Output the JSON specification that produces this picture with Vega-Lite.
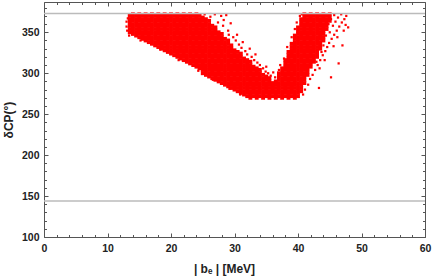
{
"$schema": "https://vega.github.io/schema/vega-lite/v6.json",
"width": 381, "height": 235,
"autosize": {"type": "none"},
"padding": {"left": 44, "top": 2, "right": 9, "bottom": 42},
"background": "white",
"config": {"view": {"stroke": null}, "axis": {"grid": false, "domainColor": "#555555", "tickColor": "#555555", "labelColor": "#222222", "titleColor": "#222222", "labelFont": "Liberation Sans", "titleFont": "Liberation Sans", "labelFontWeight": "bold", "titleFontWeight": "bold", "labelFontSize": 10.5, "titleFontSize": 12, "labelFlush": false, "labelOverlap": false, "labelBound": false, "domainWidth": 1, "tickWidth": 1}},
"datasets": {
"dense": [
{"b":13.5,"d":350},{"b":13.5,"d":354},{"b":13.5,"d":358},{"b":13.5,"d":362},{"b":13.5,"d":366},{"b":13.5,"d":370},
{"b":14,"d":348},{"b":14,"d":352},{"b":14,"d":356},{"b":14,"d":360},{"b":14,"d":364},{"b":14,"d":368},{"b":14,"d":372},
{"b":14.5,"d":346},{"b":14.5,"d":350},{"b":14.5,"d":354},{"b":14.5,"d":358},{"b":14.5,"d":362},{"b":14.5,"d":366},{"b":14.5,"d":370},
{"b":15,"d":344},{"b":15,"d":348},{"b":15,"d":352},{"b":15,"d":356},{"b":15,"d":360},{"b":15,"d":364},{"b":15,"d":368},{"b":15,"d":372},
{"b":15.5,"d":342},{"b":15.5,"d":346},{"b":15.5,"d":350},{"b":15.5,"d":354},{"b":15.5,"d":358},{"b":15.5,"d":362},{"b":15.5,"d":366},{"b":15.5,"d":370},
{"b":16,"d":340},{"b":16,"d":344},{"b":16,"d":348},{"b":16,"d":352},{"b":16,"d":356},{"b":16,"d":360},{"b":16,"d":364},{"b":16,"d":368},{"b":16,"d":372},
{"b":16.5,"d":338},{"b":16.5,"d":342},{"b":16.5,"d":346},{"b":16.5,"d":350},{"b":16.5,"d":354},{"b":16.5,"d":358},{"b":16.5,"d":362},{"b":16.5,"d":366},{"b":16.5,"d":370},
{"b":17,"d":336},{"b":17,"d":340},{"b":17,"d":344},{"b":17,"d":348},{"b":17,"d":352},{"b":17,"d":356},{"b":17,"d":360},{"b":17,"d":364},{"b":17,"d":368},{"b":17,"d":372},
{"b":17.5,"d":334},{"b":17.5,"d":338},{"b":17.5,"d":342},{"b":17.5,"d":346},{"b":17.5,"d":350},{"b":17.5,"d":354},{"b":17.5,"d":358},{"b":17.5,"d":362},{"b":17.5,"d":366},{"b":17.5,"d":370},
{"b":18,"d":332},{"b":18,"d":336},{"b":18,"d":340},{"b":18,"d":344},{"b":18,"d":348},{"b":18,"d":352},{"b":18,"d":356},{"b":18,"d":360},{"b":18,"d":364},{"b":18,"d":368},{"b":18,"d":372},
{"b":18.5,"d":330},{"b":18.5,"d":334},{"b":18.5,"d":338},{"b":18.5,"d":342},{"b":18.5,"d":346},{"b":18.5,"d":350},{"b":18.5,"d":354},{"b":18.5,"d":358},{"b":18.5,"d":362},{"b":18.5,"d":366},{"b":18.5,"d":370},
{"b":19,"d":328},{"b":19,"d":332},{"b":19,"d":336},{"b":19,"d":340},{"b":19,"d":344},{"b":19,"d":348},{"b":19,"d":352},{"b":19,"d":356},{"b":19,"d":360},{"b":19,"d":364},{"b":19,"d":368},{"b":19,"d":372},
{"b":19.5,"d":326},{"b":19.5,"d":330},{"b":19.5,"d":334},{"b":19.5,"d":338},{"b":19.5,"d":342},{"b":19.5,"d":346},{"b":19.5,"d":350},{"b":19.5,"d":354},{"b":19.5,"d":358},{"b":19.5,"d":362},{"b":19.5,"d":366},{"b":19.5,"d":370},
{"b":20,"d":324},{"b":20,"d":328},{"b":20,"d":332},{"b":20,"d":336},{"b":20,"d":340},{"b":20,"d":344},{"b":20,"d":348},{"b":20,"d":352},{"b":20,"d":356},{"b":20,"d":360},{"b":20,"d":364},{"b":20,"d":368},{"b":20,"d":372},
{"b":20.5,"d":322},{"b":20.5,"d":326},{"b":20.5,"d":330},{"b":20.5,"d":334},{"b":20.5,"d":338},{"b":20.5,"d":342},{"b":20.5,"d":346},{"b":20.5,"d":350},{"b":20.5,"d":354},{"b":20.5,"d":358},{"b":20.5,"d":362},{"b":20.5,"d":366},{"b":20.5,"d":370},
{"b":21,"d":320},{"b":21,"d":324},{"b":21,"d":328},{"b":21,"d":332},{"b":21,"d":336},{"b":21,"d":340},{"b":21,"d":344},{"b":21,"d":348},{"b":21,"d":352},{"b":21,"d":356},{"b":21,"d":360},{"b":21,"d":364},{"b":21,"d":368},{"b":21,"d":372},
{"b":21.5,"d":318},{"b":21.5,"d":322},{"b":21.5,"d":326},{"b":21.5,"d":330},{"b":21.5,"d":334},{"b":21.5,"d":338},{"b":21.5,"d":342},{"b":21.5,"d":346},{"b":21.5,"d":350},{"b":21.5,"d":354},{"b":21.5,"d":358},{"b":21.5,"d":362},{"b":21.5,"d":366},{"b":21.5,"d":370},
{"b":22,"d":316},{"b":22,"d":320},{"b":22,"d":324},{"b":22,"d":328},{"b":22,"d":332},{"b":22,"d":336},{"b":22,"d":340},{"b":22,"d":344},{"b":22,"d":348},{"b":22,"d":352},{"b":22,"d":356},{"b":22,"d":360},{"b":22,"d":364},{"b":22,"d":368},{"b":22,"d":372},
{"b":22.5,"d":314},{"b":22.5,"d":318},{"b":22.5,"d":322},{"b":22.5,"d":326},{"b":22.5,"d":330},{"b":22.5,"d":334},{"b":22.5,"d":338},{"b":22.5,"d":342},{"b":22.5,"d":346},{"b":22.5,"d":350},{"b":22.5,"d":354},{"b":22.5,"d":358},{"b":22.5,"d":362},{"b":22.5,"d":366},{"b":22.5,"d":370},
{"b":23,"d":312},{"b":23,"d":316},{"b":23,"d":320},{"b":23,"d":324},{"b":23,"d":328},{"b":23,"d":332},{"b":23,"d":336},{"b":23,"d":340},{"b":23,"d":344},{"b":23,"d":348},{"b":23,"d":352},{"b":23,"d":356},{"b":23,"d":360},{"b":23,"d":364},{"b":23,"d":368},{"b":23,"d":372},
{"b":23.5,"d":310},{"b":23.5,"d":314},{"b":23.5,"d":318},{"b":23.5,"d":322},{"b":23.5,"d":326},{"b":23.5,"d":330},{"b":23.5,"d":334},{"b":23.5,"d":338},{"b":23.5,"d":342},{"b":23.5,"d":346},{"b":23.5,"d":350},{"b":23.5,"d":354},{"b":23.5,"d":358},{"b":23.5,"d":362},{"b":23.5,"d":366},{"b":23.5,"d":370},
{"b":24,"d":308},{"b":24,"d":312},{"b":24,"d":316},{"b":24,"d":320},{"b":24,"d":324},{"b":24,"d":328},{"b":24,"d":332},{"b":24,"d":336},{"b":24,"d":340},{"b":24,"d":344},{"b":24,"d":348},{"b":24,"d":352},{"b":24,"d":356},{"b":24,"d":360},{"b":24,"d":364},{"b":24,"d":368},{"b":24,"d":372},
{"b":24.5,"d":306},{"b":24.5,"d":310},{"b":24.5,"d":314},{"b":24.5,"d":318},{"b":24.5,"d":322},{"b":24.5,"d":326},{"b":24.5,"d":330},{"b":24.5,"d":334},{"b":24.5,"d":338},{"b":24.5,"d":342},{"b":24.5,"d":346},{"b":24.5,"d":350},{"b":24.5,"d":354},{"b":24.5,"d":358},{"b":24.5,"d":362},{"b":24.5,"d":366},{"b":24.5,"d":370},
{"b":25,"d":300},{"b":25,"d":304},{"b":25,"d":308},{"b":25,"d":312},{"b":25,"d":316},{"b":25,"d":320},{"b":25,"d":324},{"b":25,"d":328},{"b":25,"d":332},{"b":25,"d":336},{"b":25,"d":340},{"b":25,"d":344},{"b":25,"d":348},{"b":25,"d":352},{"b":25,"d":356},{"b":25,"d":360},{"b":25,"d":364},{"b":25,"d":368},
{"b":25.5,"d":298},{"b":25.5,"d":302},{"b":25.5,"d":306},{"b":25.5,"d":310},{"b":25.5,"d":314},{"b":25.5,"d":318},{"b":25.5,"d":322},{"b":25.5,"d":326},{"b":25.5,"d":330},{"b":25.5,"d":334},{"b":25.5,"d":338},{"b":25.5,"d":342},{"b":25.5,"d":346},{"b":25.5,"d":350},{"b":25.5,"d":354},{"b":25.5,"d":358},{"b":25.5,"d":362},{"b":25.5,"d":366},
{"b":26,"d":296},{"b":26,"d":300},{"b":26,"d":304},{"b":26,"d":308},{"b":26,"d":312},{"b":26,"d":316},{"b":26,"d":320},{"b":26,"d":324},{"b":26,"d":328},{"b":26,"d":332},{"b":26,"d":336},{"b":26,"d":340},{"b":26,"d":344},{"b":26,"d":348},{"b":26,"d":352},{"b":26,"d":356},{"b":26,"d":360},{"b":26,"d":364},
{"b":26.5,"d":294},{"b":26.5,"d":298},{"b":26.5,"d":302},{"b":26.5,"d":306},{"b":26.5,"d":310},{"b":26.5,"d":314},{"b":26.5,"d":318},{"b":26.5,"d":322},{"b":26.5,"d":326},{"b":26.5,"d":330},{"b":26.5,"d":334},{"b":26.5,"d":338},{"b":26.5,"d":342},{"b":26.5,"d":346},{"b":26.5,"d":350},{"b":26.5,"d":354},{"b":26.5,"d":358},
{"b":27,"d":292},{"b":27,"d":296},{"b":27,"d":300},{"b":27,"d":304},{"b":27,"d":308},{"b":27,"d":312},{"b":27,"d":316},{"b":27,"d":320},{"b":27,"d":324},{"b":27,"d":328},{"b":27,"d":332},{"b":27,"d":336},{"b":27,"d":340},{"b":27,"d":344},{"b":27,"d":348},{"b":27,"d":352},{"b":27,"d":356},
{"b":27.5,"d":290},{"b":27.5,"d":294},{"b":27.5,"d":298},{"b":27.5,"d":302},{"b":27.5,"d":306},{"b":27.5,"d":310},{"b":27.5,"d":314},{"b":27.5,"d":318},{"b":27.5,"d":322},{"b":27.5,"d":326},{"b":27.5,"d":330},{"b":27.5,"d":334},{"b":27.5,"d":338},{"b":27.5,"d":342},{"b":27.5,"d":346},{"b":27.5,"d":350},
{"b":28,"d":288},{"b":28,"d":292},{"b":28,"d":296},{"b":28,"d":300},{"b":28,"d":304},{"b":28,"d":308},{"b":28,"d":312},{"b":28,"d":316},{"b":28,"d":320},{"b":28,"d":324},{"b":28,"d":328},{"b":28,"d":332},{"b":28,"d":336},{"b":28,"d":340},{"b":28,"d":344},{"b":28,"d":348},
{"b":28.5,"d":286},{"b":28.5,"d":290},{"b":28.5,"d":294},{"b":28.5,"d":298},{"b":28.5,"d":302},{"b":28.5,"d":306},{"b":28.5,"d":310},{"b":28.5,"d":314},{"b":28.5,"d":318},{"b":28.5,"d":322},{"b":28.5,"d":326},{"b":28.5,"d":330},{"b":28.5,"d":334},{"b":28.5,"d":338},{"b":28.5,"d":342},
{"b":29,"d":284},{"b":29,"d":288},{"b":29,"d":292},{"b":29,"d":296},{"b":29,"d":300},{"b":29,"d":304},{"b":29,"d":308},{"b":29,"d":312},{"b":29,"d":316},{"b":29,"d":320},{"b":29,"d":324},{"b":29,"d":328},{"b":29,"d":332},{"b":29,"d":336},{"b":29,"d":340},
{"b":29.5,"d":282},{"b":29.5,"d":286},{"b":29.5,"d":290},{"b":29.5,"d":294},{"b":29.5,"d":298},{"b":29.5,"d":302},{"b":29.5,"d":306},{"b":29.5,"d":310},{"b":29.5,"d":314},{"b":29.5,"d":318},{"b":29.5,"d":322},{"b":29.5,"d":326},{"b":29.5,"d":330},{"b":29.5,"d":334},
{"b":30,"d":280},{"b":30,"d":284},{"b":30,"d":288},{"b":30,"d":292},{"b":30,"d":296},{"b":30,"d":300},{"b":30,"d":304},{"b":30,"d":308},{"b":30,"d":312},{"b":30,"d":316},{"b":30,"d":320},{"b":30,"d":324},{"b":30,"d":328},
{"b":30.5,"d":278},{"b":30.5,"d":282},{"b":30.5,"d":286},{"b":30.5,"d":290},{"b":30.5,"d":294},{"b":30.5,"d":298},{"b":30.5,"d":302},{"b":30.5,"d":306},{"b":30.5,"d":310},{"b":30.5,"d":314},{"b":30.5,"d":318},{"b":30.5,"d":322},{"b":30.5,"d":326},
{"b":31,"d":276},{"b":31,"d":280},{"b":31,"d":284},{"b":31,"d":288},{"b":31,"d":292},{"b":31,"d":296},{"b":31,"d":300},{"b":31,"d":304},{"b":31,"d":308},{"b":31,"d":312},{"b":31,"d":316},{"b":31,"d":320},{"b":31,"d":324},
{"b":31.5,"d":274},{"b":31.5,"d":278},{"b":31.5,"d":282},{"b":31.5,"d":286},{"b":31.5,"d":290},{"b":31.5,"d":294},{"b":31.5,"d":298},{"b":31.5,"d":302},{"b":31.5,"d":306},{"b":31.5,"d":310},{"b":31.5,"d":314},{"b":31.5,"d":318},
{"b":32,"d":272},{"b":32,"d":276},{"b":32,"d":280},{"b":32,"d":284},{"b":32,"d":288},{"b":32,"d":292},{"b":32,"d":296},{"b":32,"d":300},{"b":32,"d":304},{"b":32,"d":308},{"b":32,"d":312},{"b":32,"d":316},
{"b":32.5,"d":270},{"b":32.5,"d":274},{"b":32.5,"d":278},{"b":32.5,"d":282},{"b":32.5,"d":286},{"b":32.5,"d":290},{"b":32.5,"d":294},{"b":32.5,"d":298},{"b":32.5,"d":302},{"b":32.5,"d":306},{"b":32.5,"d":310},{"b":32.5,"d":314},
{"b":33,"d":272},{"b":33,"d":276},{"b":33,"d":280},{"b":33,"d":284},{"b":33,"d":288},{"b":33,"d":292},{"b":33,"d":296},{"b":33,"d":300},{"b":33,"d":304},{"b":33,"d":308},
{"b":33.5,"d":270},{"b":33.5,"d":274},{"b":33.5,"d":278},{"b":33.5,"d":282},{"b":33.5,"d":286},{"b":33.5,"d":290},{"b":33.5,"d":294},{"b":33.5,"d":298},{"b":33.5,"d":302},{"b":33.5,"d":306},
{"b":34,"d":272},{"b":34,"d":276},{"b":34,"d":280},{"b":34,"d":284},{"b":34,"d":288},{"b":34,"d":292},{"b":34,"d":296},{"b":34,"d":300},{"b":34,"d":304},
{"b":34.5,"d":270},{"b":34.5,"d":274},{"b":34.5,"d":278},{"b":34.5,"d":282},{"b":34.5,"d":286},{"b":34.5,"d":290},{"b":34.5,"d":294},{"b":34.5,"d":298},
{"b":35,"d":272},{"b":35,"d":276},{"b":35,"d":280},{"b":35,"d":284},{"b":35,"d":288},{"b":35,"d":292},{"b":35,"d":296},
{"b":35.5,"d":270},{"b":35.5,"d":274},{"b":35.5,"d":278},{"b":35.5,"d":282},{"b":35.5,"d":286},{"b":35.5,"d":290},{"b":35.5,"d":294},
{"b":36,"d":272},{"b":36,"d":276},{"b":36,"d":280},{"b":36,"d":284},{"b":36,"d":288},
{"b":36.5,"d":270},{"b":36.5,"d":274},{"b":36.5,"d":278},{"b":36.5,"d":282},{"b":36.5,"d":286},{"b":36.5,"d":290},
{"b":37,"d":272},{"b":37,"d":276},{"b":37,"d":280},{"b":37,"d":284},{"b":37,"d":288},{"b":37,"d":292},{"b":37,"d":296},{"b":37,"d":300},
{"b":37.5,"d":270},{"b":37.5,"d":274},{"b":37.5,"d":278},{"b":37.5,"d":282},{"b":37.5,"d":286},{"b":37.5,"d":290},{"b":37.5,"d":294},{"b":37.5,"d":298},{"b":37.5,"d":302},{"b":37.5,"d":306},
{"b":38,"d":272},{"b":38,"d":276},{"b":38,"d":280},{"b":38,"d":284},{"b":38,"d":288},{"b":38,"d":292},{"b":38,"d":296},{"b":38,"d":300},{"b":38,"d":304},{"b":38,"d":308},{"b":38,"d":312},{"b":38,"d":316},
{"b":38.5,"d":270},{"b":38.5,"d":274},{"b":38.5,"d":278},{"b":38.5,"d":282},{"b":38.5,"d":286},{"b":38.5,"d":290},{"b":38.5,"d":294},{"b":38.5,"d":298},{"b":38.5,"d":302},{"b":38.5,"d":306},{"b":38.5,"d":310},{"b":38.5,"d":314},{"b":38.5,"d":318},{"b":38.5,"d":322},{"b":38.5,"d":326},
{"b":39,"d":272},{"b":39,"d":276},{"b":39,"d":280},{"b":39,"d":284},{"b":39,"d":288},{"b":39,"d":292},{"b":39,"d":296},{"b":39,"d":300},{"b":39,"d":304},{"b":39,"d":308},{"b":39,"d":312},{"b":39,"d":316},{"b":39,"d":320},{"b":39,"d":324},{"b":39,"d":328},{"b":39,"d":332},{"b":39,"d":336},
{"b":39.5,"d":270},{"b":39.5,"d":274},{"b":39.5,"d":278},{"b":39.5,"d":282},{"b":39.5,"d":286},{"b":39.5,"d":290},{"b":39.5,"d":294},{"b":39.5,"d":298},{"b":39.5,"d":302},{"b":39.5,"d":306},{"b":39.5,"d":310},{"b":39.5,"d":314},{"b":39.5,"d":318},{"b":39.5,"d":322},{"b":39.5,"d":326},{"b":39.5,"d":330},{"b":39.5,"d":334},{"b":39.5,"d":338},{"b":39.5,"d":342},{"b":39.5,"d":346},
{"b":40,"d":272},{"b":40,"d":276},{"b":40,"d":280},{"b":40,"d":284},{"b":40,"d":288},{"b":40,"d":292},{"b":40,"d":296},{"b":40,"d":300},{"b":40,"d":304},{"b":40,"d":308},{"b":40,"d":312},{"b":40,"d":316},{"b":40,"d":320},{"b":40,"d":324},{"b":40,"d":328},{"b":40,"d":332},{"b":40,"d":336},{"b":40,"d":340},{"b":40,"d":344},{"b":40,"d":348},{"b":40,"d":352},{"b":40,"d":356},
{"b":40.5,"d":278},{"b":40.5,"d":282},{"b":40.5,"d":286},{"b":40.5,"d":290},{"b":40.5,"d":294},{"b":40.5,"d":298},{"b":40.5,"d":302},{"b":40.5,"d":306},{"b":40.5,"d":310},{"b":40.5,"d":314},{"b":40.5,"d":318},{"b":40.5,"d":322},{"b":40.5,"d":326},{"b":40.5,"d":330},{"b":40.5,"d":334},{"b":40.5,"d":338},{"b":40.5,"d":342},{"b":40.5,"d":346},{"b":40.5,"d":350},{"b":40.5,"d":354},{"b":40.5,"d":358},{"b":40.5,"d":362},{"b":40.5,"d":366},
{"b":41,"d":288},{"b":41,"d":292},{"b":41,"d":296},{"b":41,"d":300},{"b":41,"d":304},{"b":41,"d":308},{"b":41,"d":312},{"b":41,"d":316},{"b":41,"d":320},{"b":41,"d":324},{"b":41,"d":328},{"b":41,"d":332},{"b":41,"d":336},{"b":41,"d":340},{"b":41,"d":344},{"b":41,"d":348},{"b":41,"d":352},{"b":41,"d":356},{"b":41,"d":360},{"b":41,"d":364},{"b":41,"d":368},{"b":41,"d":372},
{"b":41.5,"d":298},{"b":41.5,"d":302},{"b":41.5,"d":306},{"b":41.5,"d":310},{"b":41.5,"d":314},{"b":41.5,"d":318},{"b":41.5,"d":322},{"b":41.5,"d":326},{"b":41.5,"d":330},{"b":41.5,"d":334},{"b":41.5,"d":338},{"b":41.5,"d":342},{"b":41.5,"d":346},{"b":41.5,"d":350},{"b":41.5,"d":354},{"b":41.5,"d":358},{"b":41.5,"d":362},{"b":41.5,"d":366},{"b":41.5,"d":370},
{"b":42,"d":308},{"b":42,"d":312},{"b":42,"d":316},{"b":42,"d":320},{"b":42,"d":324},{"b":42,"d":328},{"b":42,"d":332},{"b":42,"d":336},{"b":42,"d":340},{"b":42,"d":344},{"b":42,"d":348},{"b":42,"d":352},{"b":42,"d":356},{"b":42,"d":360},{"b":42,"d":364},{"b":42,"d":368},{"b":42,"d":372},
{"b":42.5,"d":314},{"b":42.5,"d":318},{"b":42.5,"d":322},{"b":42.5,"d":326},{"b":42.5,"d":330},{"b":42.5,"d":334},{"b":42.5,"d":338},{"b":42.5,"d":342},{"b":42.5,"d":346},{"b":42.5,"d":350},{"b":42.5,"d":354},{"b":42.5,"d":358},{"b":42.5,"d":362},{"b":42.5,"d":366},{"b":42.5,"d":370},
{"b":43,"d":320},{"b":43,"d":324},{"b":43,"d":328},{"b":43,"d":332},{"b":43,"d":336},{"b":43,"d":340},{"b":43,"d":344},{"b":43,"d":348},{"b":43,"d":352},{"b":43,"d":356},{"b":43,"d":360},{"b":43,"d":364},{"b":43,"d":368},{"b":43,"d":372},
{"b":43.5,"d":330},{"b":43.5,"d":334},{"b":43.5,"d":338},{"b":43.5,"d":342},{"b":43.5,"d":346},{"b":43.5,"d":350},{"b":43.5,"d":354},{"b":43.5,"d":358},{"b":43.5,"d":362},{"b":43.5,"d":366},{"b":43.5,"d":370},
{"b":44,"d":340},{"b":44,"d":344},{"b":44,"d":348},{"b":44,"d":352},{"b":44,"d":356},{"b":44,"d":360},{"b":44,"d":364},{"b":44,"d":368},{"b":44,"d":372},
{"b":44.5,"d":354},{"b":44.5,"d":358},{"b":44.5,"d":362},{"b":44.5,"d":366},{"b":44.5,"d":370},
{"b":45,"d":364},{"b":45,"d":368},{"b":45,"d":372}
],
"sparse": [
{"b":13.0,"d":357},{"b":13.0,"d":363},{"b":13.2,"d":367},{"b":13.4,"d":346},{"b":13.1,"d":352},
{"b":15.2,"d":340},{"b":18.3,"d":329},{"b":21.2,"d":316},{"b":24.3,"d":303},{"b":26.6,"d":292},{"b":29.2,"d":281},{"b":30.9,"d":274},
{"b":25.3,"d":372},{"b":26.2,"d":369},{"b":26.9,"d":372},{"b":27.4,"d":362},{"b":27.9,"d":370},{"b":28.3,"d":365},{"b":28.7,"d":371},{"b":28.2,"d":358},{"b":29.0,"d":352},{"b":29.1,"d":347},{"b":29.4,"d":361},{"b":29.8,"d":344},{"b":30.2,"d":340},{"b":30.4,"d":347},{"b":30.7,"d":335},{"b":31.1,"d":331},{"b":31.3,"d":338},{"b":31.7,"d":327},{"b":32.0,"d":323},{"b":32.4,"d":330},{"b":32.7,"d":320},{"b":33.1,"d":316},{"b":33.3,"d":323},{"b":33.6,"d":313},{"b":34.0,"d":310},{"b":34.5,"d":306},{"b":34.9,"d":302},{"b":35.3,"d":300},{"b":35.7,"d":297},{"b":36.1,"d":301},{"b":36.4,"d":295},{"b":37.0,"d":304},{"b":35.0,"d":308},
{"b":40.8,"d":274},{"b":41.1,"d":280},{"b":41.6,"d":286},{"b":41.9,"d":293},{"b":42.3,"d":298},{"b":43.3,"d":282},{"b":42.7,"d":304},{"b":43.1,"d":310},{"b":43.5,"d":316},{"b":43.9,"d":322},{"b":44.3,"d":327},{"b":44.6,"d":332},{"b":45.2,"d":295},{"b":44.9,"d":337},{"b":45.3,"d":342},{"b":45.7,"d":347},{"b":46.1,"d":352},{"b":46.4,"d":312},{"b":46.5,"d":357},{"b":46.9,"d":362},{"b":47.0,"d":334},{"b":47.3,"d":366},{"b":47.6,"d":370},{"b":47.9,"d":356},{"b":45.0,"d":350},{"b":45.5,"d":358},{"b":45.9,"d":363},{"b":46.3,"d":368},{"b":46.8,"d":372},{"b":44.8,"d":360},{"b":45.2,"d":366},{"b":45.7,"d":371},{"b":44.4,"d":346},{"b":44.0,"d":334},{"b":43.7,"d":326},{"b":42.9,"d":314},{"b":43.4,"d":306},{"b":44.2,"d":316},{"b":45.6,"d":333},{"b":46.2,"d":344},{"b":47.2,"d":352},{"b":47.5,"d":359},
{"b":39.8,"d":362},{"b":40.3,"d":370},{"b":39.0,"d":344},{"b":38.3,"d":332},{"b":37.8,"d":318},{"b":37.2,"d":310},{"b":40.6,"d":372},{"b":39.5,"d":354}
],
"lines": [
{"b":0,"d":144,"g":"low"},{"b":60,"d":144,"g":"low"},
{"b":0,"d":373,"g":"high"},{"b":60,"d":373,"g":"high"}
]
},
"layer": [
{
"data": {"name": "dense"},
"mark": {"type": "point", "shape": "square", "filled": true, "color": "#ff0000", "opacity": 1, "size": 15, "strokeWidth": 0},
"encoding": {
"x": {"field": "b", "type": "quantitative", "scale": {"domain": [0, 60], "nice": false, "zero": false},
"axis": {"orient": "bottom", "values": [0,10,20,30,40,50,60], "ticks": false, "domain": true, "labelPadding": 6, "title": "| bₑ | [MeV]", "titlePadding": 10, "titleX": 180}},
"y": {"field": "d", "type": "quantitative", "scale": {"domain": [100, 387], "nice": false, "zero": false},
"axis": {"orient": "left", "values": [100,150,200,250,300,350], "ticks": false, "domain": true, "labelPadding": 5, "title": "δCP(°)", "titlePadding": 6}}
}
},
{
"data": {"name": "sparse"},
"mark": {"type": "point", "shape": "square", "filled": true, "color": "#ff0000", "opacity": 1, "size": 5, "strokeWidth": 0},
"encoding": {
"x": {"field": "b", "type": "quantitative", "scale": {"domain": [0, 60], "nice": false, "zero": false},
"axis": {"orient": "bottom", "values": [0,10,20,30,40,50,60], "labels": false, "domain": false, "tickSize": -4, "title": null}},
"y": {"field": "d", "type": "quantitative", "scale": {"domain": [100, 387], "nice": false, "zero": false},
"axis": {"orient": "left", "values": [100,150,200,250,300,350], "labels": false, "domain": false, "tickSize": -4, "title": null}}
}
},
{
"data": {"name": "lines"},
"mark": {"type": "line", "color": "#bbbbbb", "strokeWidth": 1.5},
"encoding": {
"x": {"field": "b", "type": "quantitative", "scale": {"domain": [0, 60], "nice": false, "zero": false},
"axis": {"orient": "bottom", "values": [2,4,6,8,12,14,16,18,22,24,26,28,32,34,36,38,42,44,46,48,52,54,56,58], "labels": false, "domain": false, "tickSize": -2.5, "title": null}},
"y": {"field": "d", "type": "quantitative", "scale": {"domain": [100, 387], "nice": false, "zero": false},
"axis": {"orient": "left", "values": [110,120,130,140,160,170,180,190,210,220,230,240,260,270,280,290,310,320,330,340,360,370,380], "labels": false, "domain": false, "tickSize": -2.5, "title": null}},
"detail": {"field": "g"}
}
},
{
"data": {"name": "lines"},
"mark": {"type": "line", "opacity": 0},
"encoding": {
"x": {"field": "b", "type": "quantitative", "scale": {"domain": [0, 60], "nice": false, "zero": false},
"axis": {"orient": "top", "values": [0,10,20,30,40,50,60], "labels": false, "domain": true, "tickSize": -4, "title": null}},
"y": {"field": "d", "type": "quantitative", "scale": {"domain": [100, 387], "nice": false, "zero": false},
"axis": {"orient": "right", "values": [100,150,200,250,300,350], "labels": false, "domain": true, "tickSize": -4, "title": null}},
"detail": {"field": "g"}
}
},
{
"data": {"name": "lines"},
"mark": {"type": "line", "opacity": 0},
"encoding": {
"x": {"field": "b", "type": "quantitative", "scale": {"domain": [0, 60], "nice": false, "zero": false},
"axis": {"orient": "top", "values": [2,4,6,8,12,14,16,18,22,24,26,28,32,34,36,38,42,44,46,48,52,54,56,58], "labels": false, "domain": false, "tickSize": -2.5, "title": null}},
"y": {"field": "d", "type": "quantitative", "scale": {"domain": [100, 387], "nice": false, "zero": false},
"axis": {"orient": "right", "values": [110,120,130,140,160,170,180,190,210,220,230,240,260,270,280,290,310,320,330,340,360,370,380], "labels": false, "domain": false, "tickSize": -2.5, "title": null}},
"detail": {"field": "g"}
}
}
],
"resolve": {"axis": {"x": "independent", "y": "independent"}}
}
